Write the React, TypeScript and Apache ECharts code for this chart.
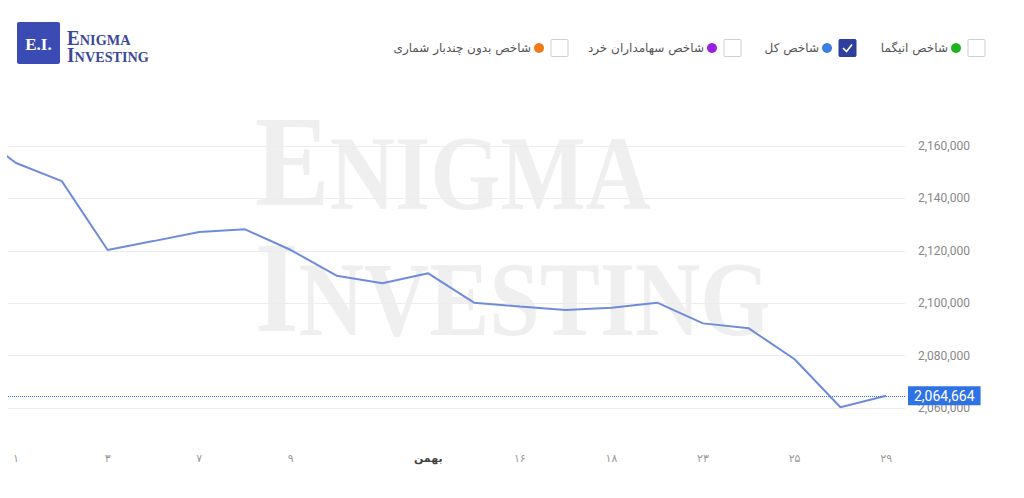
import React, { useEffect, useRef } from "react";
import * as echarts from "echarts";

// Index values (first one is the day before the visible window, clipped at the left edge)
const dayIndex = [-1, 0, 1, 2, 3, 4, 5, 6, 7, 8, 9, 10, 11, 12, 13, 14, 15, 16, 17, 18, 19];
const totalIndex = [
  2166500, 2153500, 2146600, 2120300, 2123700, 2127200, 2128200, 2120300, 2110500, 2107600,
  2111400, 2100200, 2098700, 2097400, 2098300, 2100200, 2092300, 2090400, 2078600, 2060300, 2064664,
];
const tickIndex = [0, 2, 4, 6, 9, 11, 13, 15, 17, 19];
const tickLabels = ["۱", "۳", "۷", "۹", "بهمن", "۱۶", "۱۸", "۲۳", "۲۵", "۲۹"];
const monthLabel = "بهمن";
const yTicks = { min: 2060000, max: 2160000, interval: 20000 };
const legendNames = ["شاخص انیگما", "شاخص کل", "شاخص سهامداران خرد", "شاخص بدون چندبار شماری"];
const legendColors = ["#1fb41f", "#3f7de0", "#9a1fe0", "#f07a1a"];
const legendChecked = [false, true, false, false];

const fmt = (v: number) => Math.round(v).toLocaleString("en-US");

export default function App() {
  const ref = useRef<HTMLDivElement>(null);
  useEffect(() => {
    if (!ref.current) return;
    const chart = echarts.init(ref.current, undefined, { renderer: "svg" });
    const last = totalIndex[totalIndex.length - 1];

    const legendX = [968, 839, 724, 551];
    const legendGraphics: any[] = [];
    legendNames.forEach((name, i) => {
      const bx = legendX[i];
      legendGraphics.push({
        type: "rect",
        shape: { x: bx, y: 39.5, width: 17, height: 17, r: 1 },
        style: legendChecked[i]
          ? { fill: "#2e3f9c", stroke: "#2e3f9c", lineWidth: 1 }
          : { fill: "#fff", stroke: "#cfcfcf", lineWidth: 1 },
      });
      if (legendChecked[i]) {
        legendGraphics.push({
          type: "polyline",
          shape: { points: [[bx + 4, 48], [bx + 7.5, 51.5], [bx + 13, 44.5]] },
          style: { stroke: "#fff", lineWidth: 1.6, fill: null },
        });
      }
      legendGraphics.push({
        type: "circle",
        shape: { cx: bx - 12, cy: 48, r: 5 },
        style: { fill: legendColors[i] },
      });
      legendGraphics.push({
        type: "text",
        x: bx - 20,
        y: 48,
        style: {
          text: name,
          fill: "#555",
          font: "12px 'DejaVu Sans'",
          align: "right",
          verticalAlign: "middle",
        },
      });
    });

    const wm = "#efefef";
    chart.setOption({
      animation: false,
      backgroundColor: "#fff",
      graphic: [
        {
          type: "group",
          x: 255,
          y: 0,
          scaleX: 0.86,
          z: -10,
          children: [
            { type: "text", x: 0, y: 226, z: -10, style: { text: "E", fill: wm, font: "bold 130px 'Liberation Serif'", verticalAlign: "bottom" } },
            { type: "text", x: 87, y: 226, z: -10, style: { text: "NIGMA", fill: wm, font: "bold 105px 'Liberation Serif'", verticalAlign: "bottom" } },
            { type: "text", x: 0, y: 352, z: -10, style: { text: "I", fill: wm, font: "bold 130px 'Liberation Serif'", verticalAlign: "bottom" } },
            { type: "text", x: 51, y: 352, z: -10, style: { text: "NVESTING", fill: wm, font: "bold 105px 'Liberation Serif'", verticalAlign: "bottom" } },
          ],
        },
        { type: "rect", shape: { x: 17, y: 22, width: 43, height: 42, r: 2 }, style: { fill: "#3a4cb4" } },
        { type: "text", x: 38.5, y: 44, style: { text: "E.I.", fill: "#fff", font: "bold 17px 'Liberation Serif'", align: "center", verticalAlign: "middle" } },
        {
          type: "group",
          x: 67,
          y: 0,
          scaleX: 0.95,
          children: [
            { type: "text", x: 0, y: 38, style: { text: "E", fill: "#3b4899", font: "bold 20px 'Liberation Serif'", verticalAlign: "middle" } },
            { type: "text", x: 13.5, y: 39.5, style: { text: "NIGMA", fill: "#3b4899", font: "bold 15px 'Liberation Serif'", verticalAlign: "middle" } },
            { type: "text", x: 0, y: 55, style: { text: "I", fill: "#3b4899", font: "bold 20px 'Liberation Serif'", verticalAlign: "middle" } },
            { type: "text", x: 8, y: 56.5, style: { text: "NVESTING", fill: "#3b4899", font: "bold 15px 'Liberation Serif'", verticalAlign: "middle" } },
          ],
        },
        ...legendGraphics,
      ],
      grid: { left: 8, right: 119, top: 146, bottom: 90, containLabel: false },
      xAxis: {
        type: "value",
        min: -0.175,
        max: 19.41,
        axisLine: { show: false },
        axisTick: { show: false },
        splitLine: { show: false },
        axisLabel: {
          customValues: tickIndex,
          margin: 45,
          color: "#999",
          fontSize: 11,
          fontFamily: "DejaVu Sans",
          formatter: (v: number) => {
            const l = tickLabels[tickIndex.indexOf(Math.round(v))] ?? "";
            return l === monthLabel ? "{m|" + l + "}" : l;
          },
          rich: { m: { color: "#444", fontSize: 11, fontFamily: "DejaVu Sans", fontWeight: "bold" } },
        },
      },
      yAxis: {
        type: "value",
        position: "right",
        min: yTicks.min,
        max: yTicks.max,
        interval: yTicks.interval,
        axisLine: { show: false },
        axisTick: { show: false },
        splitLine: { lineStyle: { color: "#ececec", width: 1 } },
        axisLabel: { color: "#888", fontSize: 12, fontFamily: "Roboto", margin: 13, formatter: (v: number) => fmt(v) },
      },
      series: [
        {
          type: "line",
          data: dayIndex.map((d, i) => [d, totalIndex[i]]),
          showSymbol: false,
          symbol: "none",
          clip: true,
          lineStyle: { color: "#6e8cdb", width: 2 },
          markLine: {
            silent: true,
            symbol: "none",
            lineStyle: { color: "#3d7be6", type: "dotted", width: 1 },
            label: {
              show: true,
              position: "end",
              distance: 3,
              formatter: () => fmt(last),
              backgroundColor: "#2f72e6",
              color: "#fff",
              fontSize: 14,
              fontFamily: "Roboto",
              padding: [3, 6, 2, 6],
            },
            data: [{ yAxis: last }],
          },
        },
      ],
    });
    return () => chart.dispose();
  }, []);
  return <div ref={ref} style={{ position: "absolute", left: 0, top: 0, width: 1024, height: 498 }} />;
}
